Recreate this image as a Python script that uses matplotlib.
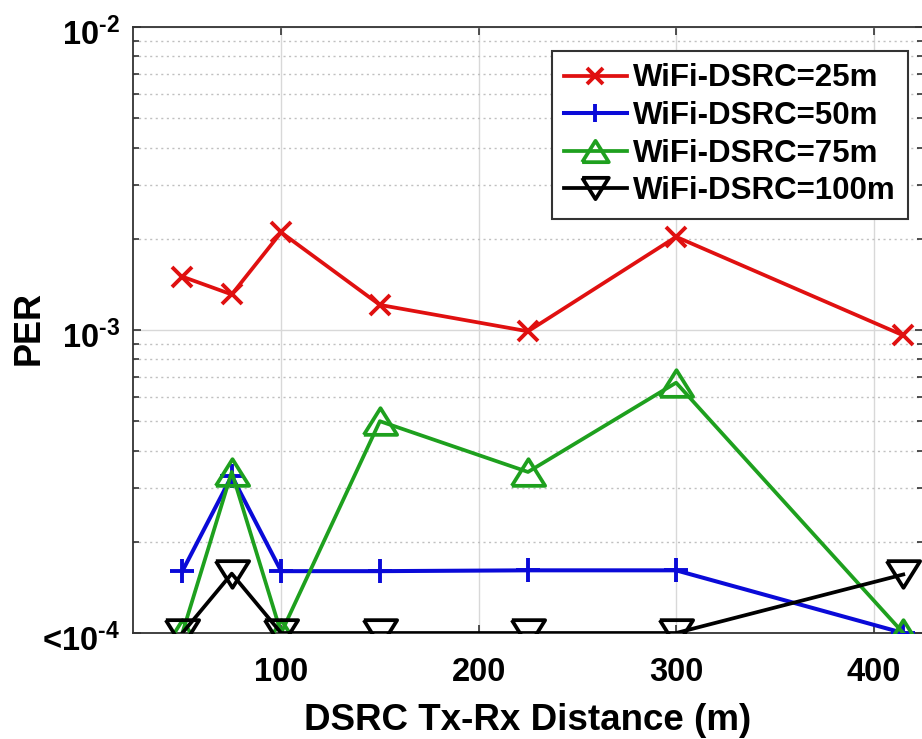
import matplotlib
matplotlib.use("Agg")
import matplotlib.pyplot as plt
from matplotlib.ticker import FixedLocator, LogLocator, NullFormatter
from matplotlib.transforms import blended_transform_factory, offset_copy

# Tx-Rx distances (m)
distance = [50, 75, 100, 150, 225, 300, 415]

# Packet error rate per WiFi-DSRC separation
per_25m = [1.50e-3, 1.31e-3, 2.10e-3, 1.21e-3, 0.99e-3, 2.03e-3, 0.96e-3]
per_50m = [1.60e-4, 3.30e-4, 1.60e-4, 1.60e-4, 1.61e-4, 1.61e-4, 1.00e-4]
per_75m = [1.00e-4, 3.40e-4, 1.00e-4, 5.00e-4, 3.40e-4, 6.70e-4, 1.00e-4]
per_100m = [1.00e-4, 1.57e-4, 1.00e-4, 1.00e-4, 1.00e-4, 1.00e-4, 1.56e-4]

series_labels = ["WiFi-DSRC=25m", "WiFi-DSRC=50m", "WiFi-DSRC=75m", "WiFi-DSRC=100m"]

x_ticks = [100, 200, 300, 400]
y_ticks = [1e-4, 1e-3, 1e-2]
y_tick_labels = [r"<$\mathbf{10^{\text{-}4}}$", r"$\mathbf{10^{\text{-}3}}$",
                 r"$\mathbf{10^{\text{-}2}}$"]

plt.rcParams["font.family"] = ["Liberation Sans", "DejaVu Sans"]
plt.rcParams["font.weight"] = "bold"
plt.rcParams["mathtext.fontset"] = "custom"
plt.rcParams["mathtext.rm"] = "Liberation Sans:bold"
plt.rcParams["mathtext.bf"] = "Liberation Sans:bold"
plt.rcParams["mathtext.it"] = "Liberation Sans:bold"

fig = plt.figure(figsize=(9.22, 7.39), dpi=100)
ax = fig.add_axes([133 / 922, 1 - 633 / 739, 790 / 922, 606 / 739])

tri_up = [(-1, -0.8), (1, -0.8), (0, 0.8), (-1, -0.8)]
tri_down = [(-1, 0.8), (1, 0.8), (0, -0.8), (-1, 0.8)]

ax.plot(distance, per_25m, color="#e01010", lw=2.7, marker="x", ms=14, mew=2.8,
        label=series_labels[0], zorder=3)
ax.plot(distance, per_50m, color="#0a0ad8", lw=2.9, marker="+", ms=17, mew=2.8,
        label=series_labels[1], zorder=4)
ax.plot(distance, per_75m, color="#1ea01e", lw=2.7, marker=tri_up, ms=24, mew=2.7,
        mfc="none", label=series_labels[2], zorder=5)
ax.plot(distance, per_100m, color="black", lw=2.7, marker=tri_down, ms=24, mew=2.7,
        mfc="none", label=series_labels[3], zorder=6)

ax.set_yscale("log")
ax.set_xlim(25, 425)
ax.set_ylim(1e-4, 1e-2)

ax.xaxis.set_major_locator(FixedLocator(x_ticks))
ax.yaxis.set_major_locator(FixedLocator(y_ticks))
ax.yaxis.set_major_formatter(NullFormatter())
ax.yaxis.set_minor_locator(LogLocator(base=10, subs=range(2, 10)))
ax.yaxis.set_minor_formatter(NullFormatter())

ax.tick_params(axis="both", which="both", direction="in", top=True, right=True,
               width=1.2, color="#333333")
ax.tick_params(axis="both", which="major", length=6, labelsize=23.5)
ax.tick_params(axis="y", which="minor", length=4)
ax.tick_params(axis="x", which="major", pad=17)

# y tick labels, sitting slightly below their tick marks
ylab_tr = offset_copy(blended_transform_factory(ax.transAxes, ax.transData),
                      fig=fig, x=-13, y=-8, units="dots")
for val, txt in zip(y_ticks, y_tick_labels):
    ax.text(0, val, txt, transform=ylab_tr, ha="right", va="center",
            fontsize=23.5, fontweight="bold", clip_on=False)

ax.grid(True, which="major", color="#d8d8d8", lw=1.0, ls="-")
ax.grid(True, which="minor", axis="y", color="#c0c0c0", lw=1.0, ls=(0, (1.5, 2.5)))
ax.set_axisbelow(True)

for sp in ax.spines.values():
    sp.set_color("#333333")
    sp.set_linewidth(1.3)

ax.set_xlabel("DSRC Tx-Rx Distance (m)", fontsize=26.5, fontweight="bold", labelpad=11)
ax.set_ylabel("PER", fontsize=26, fontweight="bold")
ax.yaxis.set_label_coords((47 - 133) / 790, (633 - 328) / 606)

leg = ax.legend(loc="upper right", bbox_to_anchor=(908 / 922, 1 - 51 / 739),
                bbox_transform=fig.transFigure, borderaxespad=0, fontsize=22.5,
                fancybox=False, framealpha=1, edgecolor="#333333",
                handlelength=2.0, handletextpad=0.2, labelspacing=0.24,
                borderpad=0.4, markerscale=0.8)
leg.get_frame().set_linewidth(1.5)

fig.savefig("out.png", dpi=100)
